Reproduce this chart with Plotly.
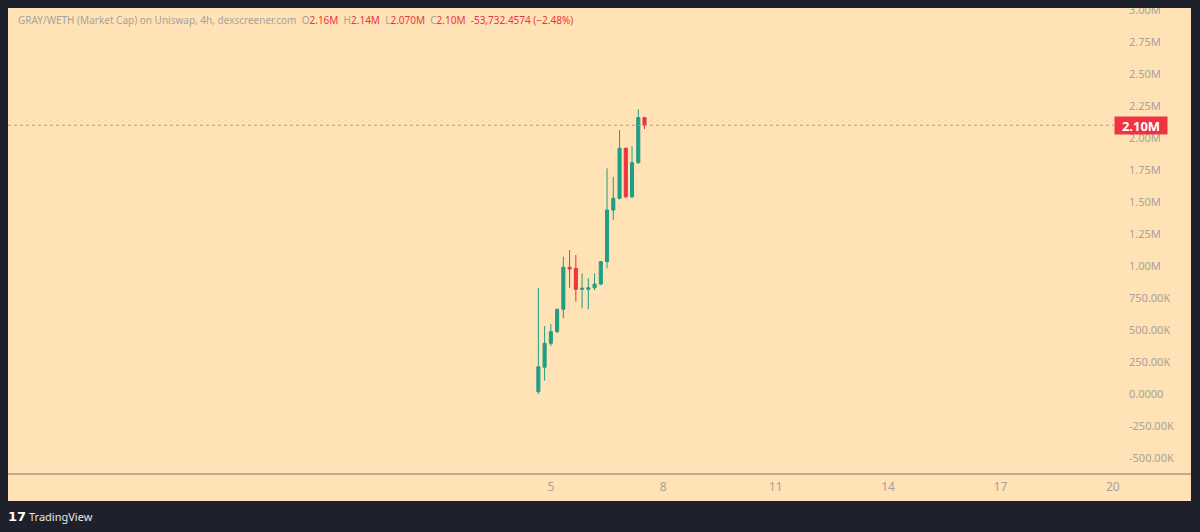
import plotly.graph_objects as go

# === 1. Data (4h candles, market cap in USD) ===
times = [
    "2024-05-04 16:00", "2024-05-04 20:00", "2024-05-05 00:00", "2024-05-05 04:00",
    "2024-05-05 08:00", "2024-05-05 12:00", "2024-05-05 16:00", "2024-05-05 20:00",
    "2024-05-06 00:00", "2024-05-06 04:00", "2024-05-06 08:00", "2024-05-06 12:00",
    "2024-05-06 16:00", "2024-05-06 20:00", "2024-05-07 00:00", "2024-05-07 04:00",
    "2024-05-07 08:00", "2024-05-07 12:00",
]
opens  = [18000, 209000, 396000, 487000, 662000, 990000, 982000, 818000, 818000,
          830000, 859000, 1034000, 1437000, 1529000, 1920000, 1541000, 1807000, 2160000]
highs  = [828000, 531000, 547000, 665000, 1073000, 1125000, 1086000, 943000, 904000,
          943000, 1040000, 1763000, 1698000, 2062000, 1925000, 1937000, 2224000, 2160000]
lows   = [0, 104000, 375000, 474000, 591000, 830000, 721000, 670000, 662000,
          812000, 850000, 982000, 1359000, 1520000, 1529000, 1529000, 1800000, 2070000]
closes = [213000, 396000, 487000, 662000, 990000, 977000, 818000, 826000, 830000,
          859000, 1034000, 1437000, 1529000, 1920000, 1541000, 1807000, 2160000, 2100000]

y_ticks = [3000000, 2750000, 2500000, 2250000, 2000000, 1750000, 1500000, 1250000,
           1000000, 750000, 500000, 250000, 0, -250000, -500000]
y_labels = ["3.00M", "2.75M", "2.50M", "2.25M", "2.00M", "1.75M", "1.50M", "1.25M",
            "1.00M", "750.00K", "500.00K", "250.00K", "0.0000", "-250.00K", "-500.00K"]
x_ticks = ["2024-05-05", "2024-05-08", "2024-05-11", "2024-05-14", "2024-05-17", "2024-05-20"]
x_labels = ["5", "8", "11", "14", "17", "20"]

# === 2. Colours ===
BG = "#ffe2b5"
FRAME = "#1e212b"
UP = "#1f9e83"
DOWN = "#ee3342"
GREY = "#a8a39a"

# === 3. Figure ===
fig = go.Figure()
fig.add_trace(go.Candlestick(
    x=times, open=opens, high=highs, low=lows, close=closes,
    increasing=dict(line=dict(color=UP, width=1), fillcolor=UP),
    decreasing=dict(line=dict(color=DOWN, width=1), fillcolor=DOWN),
    whiskerwidth=0,
    showlegend=False,
    hoverinfo="x+y",
))

# plot area spans pixels x 8..1114, y 8..474
fig.update_layout(
    width=1200, height=532,
    margin=dict(l=8, r=86, t=8, b=58, autoexpand=False),
    paper_bgcolor=FRAME,
    plot_bgcolor=BG,
    font=dict(family="Noto Sans, DejaVu Sans, sans-serif", color=GREY, size=11),
    xaxis=dict(
        type="date",
        range=["2024-04-20 12:15", "2024-05-20 00:45"],
        tickvals=x_ticks, ticktext=x_labels,
        showgrid=False, zeroline=False, showline=False,
        rangeslider=dict(visible=False),
        ticks="", ticklabelstandoff=4,
        tickfont=dict(size=12, color=GREY),
    ),
    yaxis=dict(
        side="right",
        range=[-625000, 3016000],
        tickvals=y_ticks, ticktext=y_labels,
        showgrid=False, zeroline=False, showline=False,
        ticks="", ticklabelstandoff=14,
        tickfont=dict(size=11, color=GREY),
    ),
)

# panel background extending under price and time scales
fig.add_shape(type="rect", xref="paper", yref="paper",
              x0=0, x1=1.0696, y0=-0.058, y1=1,
              fillcolor=BG, line_width=0, layer="below")
# time-scale separator line
fig.add_shape(type="line", xref="paper", yref="paper",
              x0=0, x1=1.0696, y0=0, y1=0,
              line=dict(color="#85775e", width=1))
# dotted last-price line
fig.add_shape(type="line", xref="paper", yref="y",
              x0=0, x1=1, y0=closes[-1], y1=closes[-1],
              line=dict(color="#b59a82", width=1, dash="dot"))
# frame strip on top clipping the 3.00M label
fig.add_shape(type="rect", xref="paper", yref="paper",
              x0=-0.01, x1=1.09, y0=1, y1=1.02,
              fillcolor=FRAME, line_width=0, layer="above")

# last price label
fig.add_annotation(
    xref="paper", yref="y", x=1.0, y=closes[-1],
    xanchor="left", yanchor="middle",
    text=f"<b>{closes[-1] / 1e6:.2f}M</b>",
    showarrow=False, bgcolor=DOWN, borderpad=2,
    width=48, height=13,
    font=dict(color="white", size=13),
)

# legend header
red = DOWN
header = (
    "GRAY/WETH (Market Cap) on Uniswap, 4h, dexscreener.com&nbsp;&nbsp;"
    f"O<span style='color:{red}'>{opens[-1] / 1e6:.2f}M</span>&nbsp;&nbsp;"
    f"H<span style='color:{red}'>2.14M</span>&nbsp;&nbsp;"
    f"L<span style='color:{red}'>{lows[-1] / 1e6:.3f}M</span>&nbsp;&nbsp;"
    f"C<span style='color:{red}'>{closes[-1] / 1e6:.2f}M</span>&nbsp;&nbsp;"
    f"<span style='color:{red}'>-53,732.4574 (\u22122.48%)</span>"
)
fig.add_annotation(
    xref="paper", yref="paper", x=0.007, y=0.974,
    xanchor="left", yanchor="middle",
    text=header, showarrow=False,
    font=dict(size=10, color=GREY),
)

# TradingView footer
fig.add_annotation(
    xref="paper", yref="paper", x=-0.0015, y=-0.092,
    xanchor="left", yanchor="middle",
    text="<b>17</b>", showarrow=False,
    font=dict(size=13, color="white", family="DejaVu Sans"),
)
fig.add_annotation(
    xref="paper", yref="paper", x=0.017, y=-0.092,
    xanchor="left", yanchor="middle",
    text="TradingView", showarrow=False,
    font=dict(size=11, color="#e6e6e6"),
)

fig.write_html("out.html", post_script="document.body.style.margin='0';",
               config=dict(displayModeBar=False))
